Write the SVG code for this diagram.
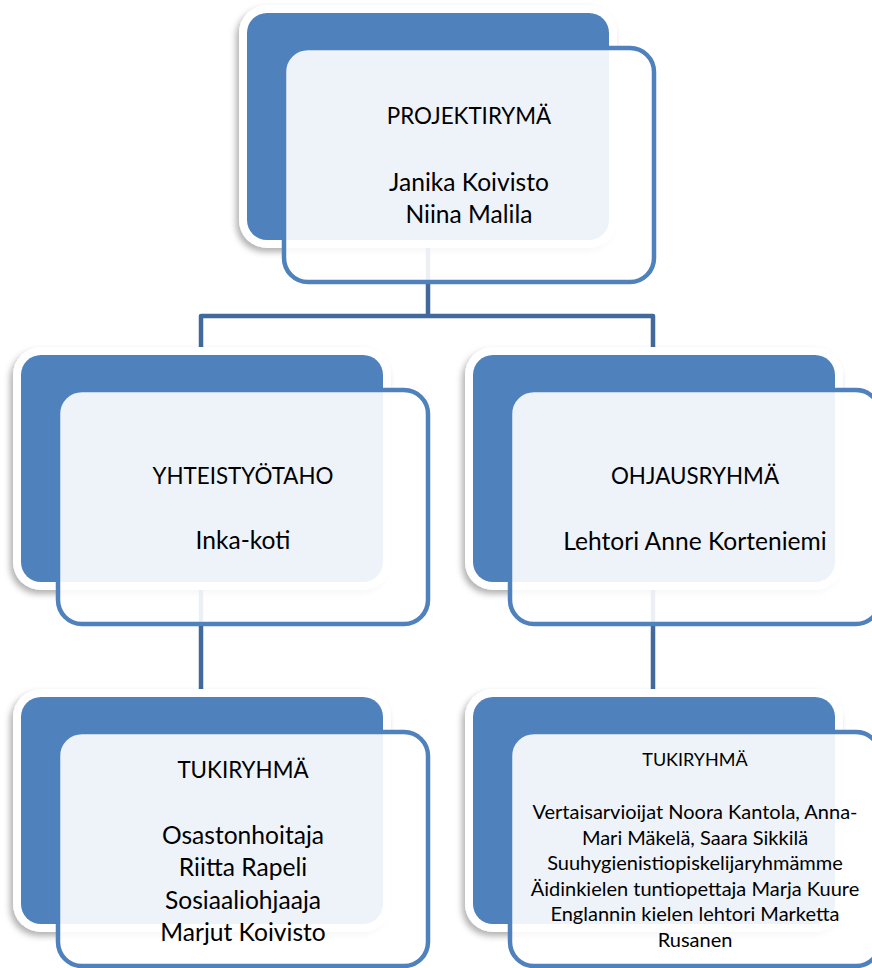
<svg xmlns="http://www.w3.org/2000/svg" width="872" height="968" viewBox="0 0 872 968">
<defs>
<filter id="sh" x="-10%" y="-10%" width="120%" height="125%">
<feDropShadow dx="-3" dy="4" stdDeviation="3" flood-color="#000" flood-opacity="0.3"/>
</filter>
<style>
.conn{fill:none;stroke:#41699B;stroke-width:4.5;stroke-linejoin:round}
.outer{fill:#fff;filter:url(#sh)}
.back{fill:#4F81BD}
.front{fill:#fff;fill-opacity:0.9;stroke:#4F81BD;stroke-width:4.5}
text{font-family:Lato,"Open Sans",sans-serif;fill:#000;text-anchor:middle}
.h{font-size:22.4px}
.t{font-size:24.6px}
.hs{font-size:18px}
.s{font-size:20px}
</style>
</defs>
<rect width="872" height="968" fill="#fff"/>
<g id="connectors">
<path class="conn" d="M428,240 V316 M201,355 V316 H653 V355"/>
<path class="conn" d="M201,582 V697 M653,582 V697"/>
</g>
<g id="projektiryma">
<rect class="outer" x="239" y="5" width="378" height="243" rx="28"/>
<rect class="back" x="247" y="13" width="362" height="227" rx="20"/>
<rect class="front" x="284" y="48" width="370" height="234" rx="24"/>
<text class="h" x="469" y="124">PROJEKTIRYMÄ</text>
<text class="t" x="469" y="191">Janika Koivisto</text>
<text class="t" x="469" y="223">Niina Malila</text>
</g>
<g id="yhteistyotaho">
<rect class="outer" x="13" y="347" width="378" height="243" rx="28"/>
<rect class="back" x="21" y="355" width="362" height="227" rx="20"/>
<rect class="front" x="58" y="390" width="370" height="234" rx="24"/>
<text class="h" x="243" y="484">YHTEISTYÖTAHO</text>
<text class="t" x="243" y="549">Inka-koti</text>
</g>
<g id="ohjausryhma">
<rect class="outer" x="465" y="347" width="378" height="243" rx="28"/>
<rect class="back" x="473" y="355" width="362" height="227" rx="20"/>
<rect class="front" x="510" y="390" width="370" height="234" rx="24"/>
<text class="h" x="695" y="484">OHJAUSRYHMÄ</text>
<text class="t" x="695" y="550">Lehtori Anne Korteniemi</text>
</g>
<g id="tukiryhma-left">
<rect class="outer" x="13" y="689" width="378" height="243" rx="28"/>
<rect class="back" x="21" y="697" width="362" height="227" rx="20"/>
<rect class="front" x="58" y="732" width="370" height="234" rx="24"/>
<text class="h" x="243" y="778">TUKIRYHMÄ</text>
<text class="t" x="243" y="844">Osastonhoitaja</text>
<text class="t" x="243" y="876">Riitta Rapeli</text>
<text class="t" x="243" y="909">Sosiaaliohjaaja</text>
<text class="t" x="243" y="941">Marjut Koivisto</text>
</g>
<g id="tukiryhma-right">
<rect class="outer" x="465" y="689" width="378" height="243" rx="28"/>
<rect class="back" x="473" y="697" width="362" height="227" rx="20"/>
<rect class="front" x="510" y="732" width="370" height="234" rx="24"/>
<text class="hs" x="695" y="766">TUKIRYHMÄ</text>
<text class="s" x="695" y="819">Vertaisarvioijat Noora Kantola, Anna-</text>
<text class="s" x="695" y="845">Mari Mäkelä, Saara Sikkilä</text>
<text class="s" x="695" y="870">Suuhygienistiopiskelijaryhmämme</text>
<text class="s" x="695" y="896">Äidinkielen tuntiopettaja Marja Kuure</text>
<text class="s" x="695" y="921">Englannin kielen lehtori Marketta</text>
<text class="s" x="695" y="947">Rusanen</text>
</g>
</svg>
